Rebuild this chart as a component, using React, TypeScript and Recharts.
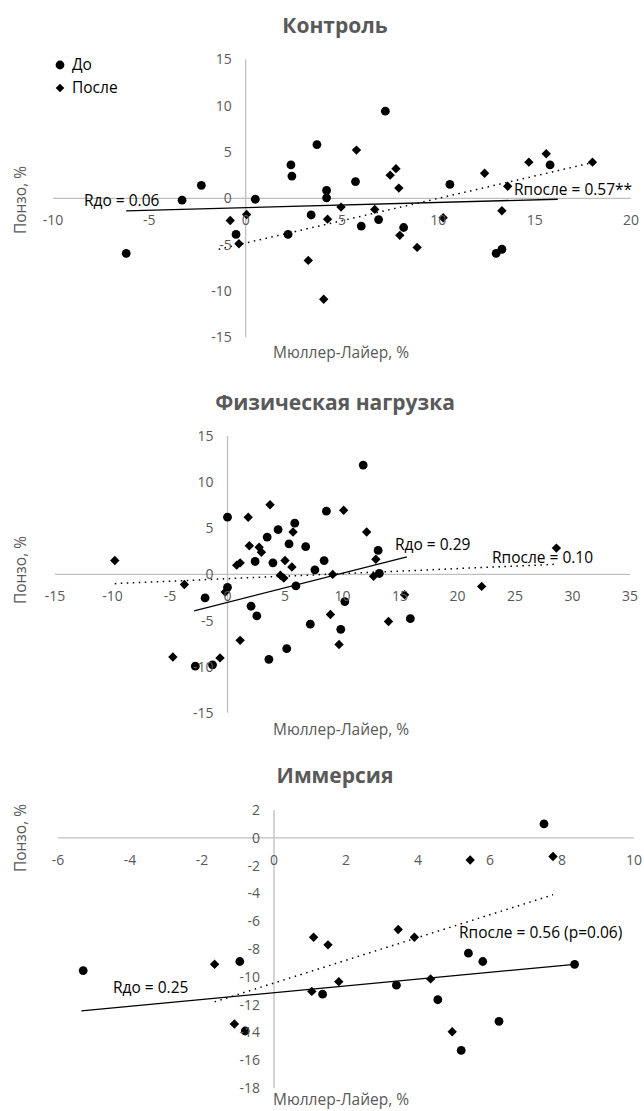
import React from 'react';
import { ScatterChart, Scatter, XAxis, YAxis, ReferenceLine } from 'recharts';

const FONT = '"Open Sans", "Noto Sans", sans-serif';
const GREY = '#595959';
const AXIS = '#bfbfbf';

// Контроль
const controlBefore = [
  { x: -6.2, y: -5.95 }, { x: -3.3, y: -0.2 }, { x: -2.3, y: 1.4 }, { x: -0.5, y: -3.9 },
  { x: 0.5, y: -0.1 }, { x: 2.35, y: 3.6 }, { x: 2.4, y: 2.4 }, { x: 2.2, y: -3.9 },
  { x: 3.4, y: -1.8 }, { x: 3.7, y: 5.8 }, { x: 4.2, y: 0.85 }, { x: 4.2, y: 0.05 },
  { x: 5.7, y: 1.8 }, { x: 6.0, y: -3.0 }, { x: 6.9, y: -2.3 }, { x: 7.25, y: 9.4 },
  { x: 8.2, y: -3.15 }, { x: 10.6, y: 1.5 }, { x: 13.0, y: -5.95 }, { x: 13.3, y: -5.5 },
  { x: 15.8, y: 3.6 },
];
const controlAfter = [
  { x: -0.8, y: -2.4 }, { x: -0.35, y: -4.9 }, { x: 0.05, y: -1.75 }, { x: 3.25, y: -6.7 },
  { x: 4.05, y: -10.9 }, { x: 4.25, y: -2.25 }, { x: 4.95, y: -0.95 }, { x: 5.75, y: 5.2 },
  { x: 6.7, y: -1.2 }, { x: 7.5, y: 2.5 }, { x: 7.8, y: 3.2 }, { x: 7.95, y: 1.1 },
  { x: 8.0, y: -4.0 }, { x: 8.9, y: -5.3 }, { x: 10.25, y: -2.1 }, { x: 12.4, y: 2.7 },
  { x: 13.3, y: -1.35 }, { x: 13.6, y: 1.3 }, { x: 14.7, y: 3.9 }, { x: 15.6, y: 4.8 },
  { x: 18.0, y: 3.9 },
];
const controlTrendBefore = [{ x: -6.2, y: -1.35 }, { x: 16.2, y: -0.1 }];
const controlTrendAfter = [{ x: -1.4, y: -5.5 }, { x: 18.0, y: 3.85 }];
const controlXTicks = [-10, -5, 0, 5, 10, 15, 20];
const controlYTicks = [-15, -10, -5, 0, 5, 10, 15];

// Физическая нагрузка
const exerciseBefore = [
  { x: 0.0, y: 6.2 }, { x: 0.0, y: -1.4 }, { x: -1.95, y: -2.55 }, { x: -2.8, y: -9.95 },
  { x: -1.3, y: -9.8 }, { x: 2.4, y: 1.4 }, { x: 2.05, y: -3.45 }, { x: 2.55, y: -4.5 },
  { x: 3.45, y: 4.05 }, { x: 3.95, y: 1.25 }, { x: 4.4, y: 4.85 }, { x: 5.35, y: 3.3 },
  { x: 5.85, y: 5.55 }, { x: 5.95, y: -1.25 }, { x: 6.8, y: 3.0 }, { x: 5.15, y: -8.05 },
  { x: 3.6, y: -9.2 }, { x: 7.2, y: -5.4 }, { x: 7.6, y: 0.5 }, { x: 8.4, y: 1.5 },
  { x: 8.6, y: 6.85 }, { x: 9.85, y: -5.95 }, { x: 10.2, y: -2.95 }, { x: 11.8, y: 11.85 },
  { x: 13.1, y: 2.6 }, { x: 13.2, y: 0.1 }, { x: 15.9, y: -4.8 },
];
const exerciseAfter = [
  { x: -9.8, y: 1.5 }, { x: -3.75, y: -1.1 }, { x: -4.75, y: -8.95 }, { x: -0.65, y: -9.05 },
  { x: -0.2, y: -1.9 }, { x: 1.1, y: -7.15 }, { x: 1.8, y: 6.2 }, { x: 1.9, y: 3.1 },
  { x: 2.75, y: 2.95 }, { x: 2.95, y: 2.4 }, { x: 0.8, y: 1.0 }, { x: 1.1, y: 1.25 },
  { x: 3.7, y: 7.55 }, { x: 5.0, y: 1.5 }, { x: 4.6, y: -0.1 }, { x: 4.9, y: -0.4 },
  { x: 5.6, y: 0.8 }, { x: 5.7, y: 4.6 }, { x: 9.15, y: 0.0 }, { x: 8.95, y: -4.35 },
  { x: 9.7, y: -7.6 }, { x: 10.1, y: 6.95 }, { x: 12.1, y: 4.6 }, { x: 12.9, y: 1.65 },
  { x: 12.7, y: -0.2 }, { x: 15.4, y: -2.2 }, { x: 14.0, y: -5.1 }, { x: 22.1, y: -1.3 },
  { x: 28.6, y: 2.85 },
];
const exerciseTrendBefore = [{ x: -2.9, y: -3.95 }, { x: 15.6, y: 1.9 }];
const exerciseTrendAfter = [{ x: -9.8, y: -1.0 }, { x: 28.6, y: 1.1 }];
const exerciseXTicks = [-15, -10, -5, 0, 5, 10, 15, 20, 25, 30, 35];
const exerciseYTicks = [-15, -10, -5, 0, 5, 10, 15];

// Иммерсия
const immersionBefore = [
  { x: -5.3, y: -9.55 }, { x: -0.95, y: -8.9 }, { x: -0.8, y: -13.9 }, { x: 1.35, y: -11.25 },
  { x: 3.4, y: -10.6 }, { x: 4.55, y: -11.65 }, { x: 5.4, y: -8.3 }, { x: 5.8, y: -8.9 },
  { x: 6.25, y: -13.2 }, { x: 5.2, y: -15.3 }, { x: 7.5, y: 1.0 }, { x: 8.35, y: -9.1 },
];
const immersionAfter = [
  { x: -1.65, y: -9.1 }, { x: -1.1, y: -13.4 }, { x: 1.05, y: -11.05 }, { x: 1.1, y: -7.15 },
  { x: 1.5, y: -7.7 }, { x: 1.8, y: -10.35 }, { x: 3.45, y: -6.6 }, { x: 3.9, y: -7.15 },
  { x: 4.35, y: -10.15 }, { x: 4.95, y: -13.95 }, { x: 5.45, y: -1.6 }, { x: 7.75, y: -1.35 },
];
const immersionTrendBefore = [{ x: -5.35, y: -12.45 }, { x: 8.35, y: -9.1 }];
const immersionTrendAfter = [{ x: -1.65, y: -11.8 }, { x: 7.75, y: -4.1 }];
const immersionXTicks = [-6, -4, -2, 0, 2, 4, 6, 8, 10];
const immersionYTicks = [-18, -16, -14, -12, -10, -8, -6, -4, -2, 0, 2];

const Dot = (p: any) => <circle cx={p.cx} cy={p.cy} r={4.4} fill="#000" />;
const Diamond = (p: any) => {
  const s = 4.7;
  return <path d={`M${p.cx},${p.cy - s}L${p.cx + s},${p.cy}L${p.cx},${p.cy + s}L${p.cx - s},${p.cy}Z`} fill="#000" />;
};
const NoShape = () => <g />;

const textStyle: React.CSSProperties = { position: 'absolute', whiteSpace: 'nowrap', lineHeight: 1 };

function Panel(props: any) {
  const { top, height, margin, xDomain, yDomain, xTicks, yTicks, before, after, trendBefore, trendAfter } = props;
  // axes take 1px so that recharts still draws their ticks
  const m = { ...margin, left: margin.left - 1, bottom: margin.bottom - 1 };
  const plotW = 644 - margin.left - margin.right;
  const plotH = height - margin.top - margin.bottom;
  const zeroY = margin.top + (plotH * yDomain[1]) / (yDomain[1] - yDomain[0]);
  const zeroX = margin.left + (plotW * (0 - xDomain[0])) / (xDomain[1] - xDomain[0]);

  return (
    <div style={{ position: 'absolute', left: 0, top, width: 644, height }}>
      <ScatterChart width={644} height={height} margin={m}>
        <XAxis
          type="number" dataKey="x" domain={xDomain} ticks={xTicks} height={1}
          axisLine={false} tickLine={false} interval={0}
          tick={(t: any) => (
            <text x={t.x} y={zeroY + 27} textAnchor="middle" fill={GREY} fontSize={14} fontFamily={FONT}>
              {t.payload.value}
            </text>
          )}
        />
        <YAxis
          type="number" dataKey="y" domain={yDomain} ticks={yTicks} width={1}
          axisLine={false} tickLine={false} interval={0}
          tick={(t: any) => (
            <text x={zeroX - 14} y={t.y + 5} textAnchor="end" fill={GREY} fontSize={14} fontFamily={FONT}>
              {t.payload.value}
            </text>
          )}
        />
        <ReferenceLine y={0} stroke={AXIS} strokeWidth={1.3} />
        <ReferenceLine x={0} stroke={AXIS} strokeWidth={1.3} />
        <Scatter data={trendBefore} shape={NoShape} line={{ stroke: '#000', strokeWidth: 1.3 }} isAnimationActive={false} legendType="none" />
        <Scatter data={trendAfter} shape={NoShape} line={{ stroke: '#000', strokeWidth: 1.5, strokeDasharray: '1.5 4.5' }} isAnimationActive={false} legendType="none" />
        <Scatter name="До" data={before} shape={Dot} isAnimationActive={false} />
        <Scatter name="После" data={after} shape={Diamond} isAnimationActive={false} />
      </ScatterChart>
      <div style={{ ...textStyle, left: 335, top: props.titleY, transform: 'translate(-50%, -50%)', fontWeight: 700, fontSize: 21, color: GREY }}>
        {props.title}
      </div>
      <div style={{ ...textStyle, left: 341, top: props.xTitleY, transform: 'translate(-50%, -50%)', fontSize: 15.5, color: GREY }}>
        Мюллер-Лайер, %
      </div>
      <div style={{ ...textStyle, left: 21, top: props.yTitleY, transform: 'translate(-50%, -50%) rotate(-90deg)', fontSize: 15.5, color: GREY }}>
        Понзо, %
      </div>
      {props.notes.map((n: any) => (
        <div key={n.text} style={{ ...textStyle, left: n.left, top: n.cy, transform: 'translateY(-50%)', fontSize: 15.5, color: '#000' }}>
          {n.text}
        </div>
      ))}
      {props.legend && (
        <div>
          <svg style={{ position: 'absolute', left: 54, top: 58 }} width={14} height={38}>
            <circle cx={6} cy={7} r={4.4} fill="#000" />
            <path d="M6,25.7L10.3,30L6,34.3L1.7,30Z" fill="#000" />
          </svg>
          <div style={{ ...textStyle, left: 72, top: 65, transform: 'translateY(-50%)', fontSize: 15.5, color: '#000' }}>До</div>
          <div style={{ ...textStyle, left: 72, top: 88, transform: 'translateY(-50%)', fontSize: 15.5, color: '#000' }}>После</div>
        </div>
      )}
    </div>
  );
}

export default function App() {
  return (
    <div style={{ position: 'absolute', left: 0, top: 0, width: 644, height: 1111, background: '#fff', fontFamily: FONT }}>
      <Panel
        top={0} height={370} margin={{ top: 59.3, right: 13, bottom: 32.7, left: 53 }}
        xDomain={[-10, 20]} yDomain={[-15, 15]} xTicks={controlXTicks} yTicks={controlYTicks}
        before={controlBefore} after={controlAfter}
        trendBefore={controlTrendBefore} trendAfter={controlTrendAfter}
        title="Контроль" titleY={25} xTitleY={353} yTitleY={200} legend
        notes={[
          { text: 'Rдо = 0.06', left: 84, cy: 201 },
          { text: 'Rпосле = 0.57**', left: 514, cy: 190 },
        ]}
      />
      <Panel
        top={370} height={380} margin={{ top: 66, right: 14, bottom: 37.2, left: 55 }}
        xDomain={[-15, 35]} yDomain={[-15, 15]} xTicks={exerciseXTicks} yTicks={exerciseYTicks}
        before={exerciseBefore} after={exerciseAfter}
        trendBefore={exerciseTrendBefore} trendAfter={exerciseTrendAfter}
        title="Физическая нагрузка" titleY={32} xTitleY={360} yTitleY={200}
        notes={[
          { text: 'Rдо = 0.29', left: 395, cy: 175 },
          { text: 'Rпосле = 0.10', left: 492, cy: 188 },
        ]}
      />
      <Panel
        top={750} height={361} margin={{ top: 60, right: 10, bottom: 23, left: 58 }}
        xDomain={[-6, 10]} yDomain={[-18, 2]} xTicks={immersionXTicks} yTicks={immersionYTicks}
        before={immersionBefore} after={immersionAfter}
        trendBefore={immersionTrendBefore} trendAfter={immersionTrendAfter}
        title="Иммерсия" titleY={25} xTitleY={350} yTitleY={88}
        notes={[
          { text: 'Rпосле = 0.56 (p=0.06)', left: 459, cy: 183 },
          { text: 'Rдо = 0.25', left: 113, cy: 238 },
        ]}
      />
    </div>
  );
}
